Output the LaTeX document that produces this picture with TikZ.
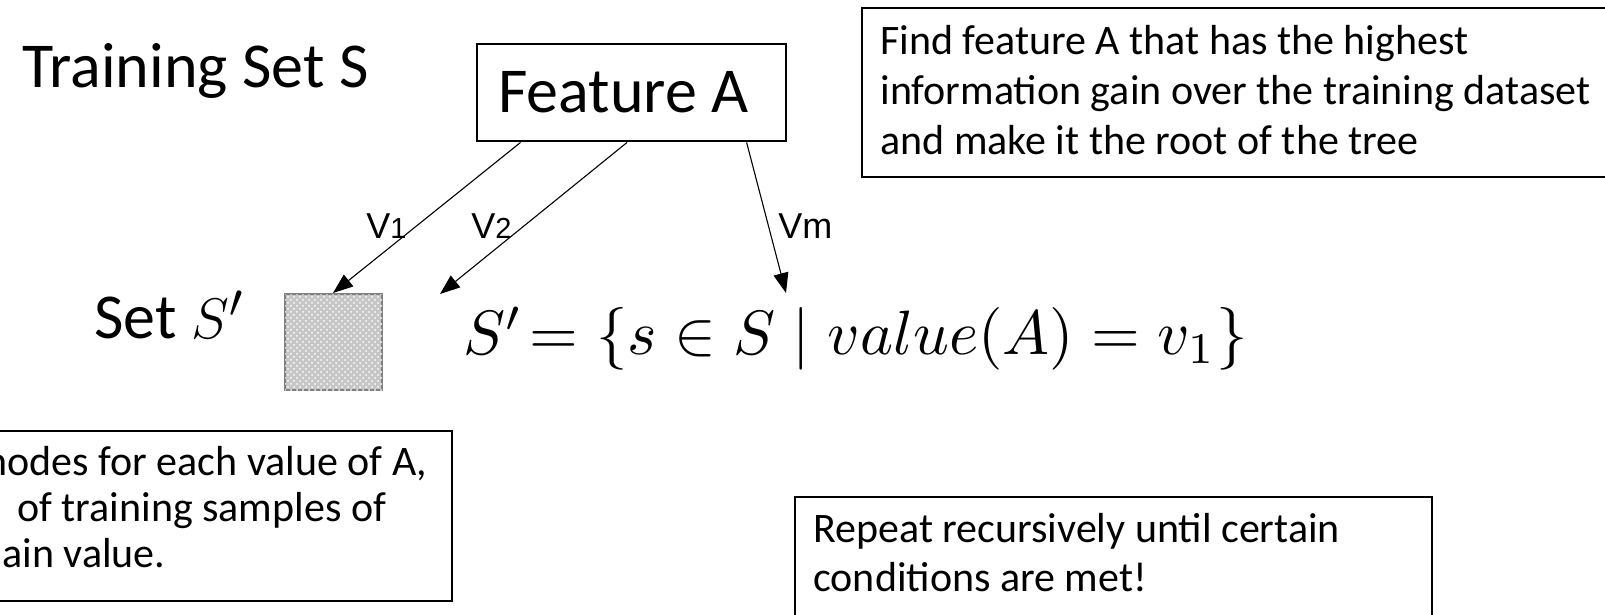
\documentclass[tikz,border=0pt]{standalone}
\usepackage{fontspec}
\setmainfont{Carlito}
\newfontfamily\labelfont{Liberation Sans}
\usetikzlibrary{arrows.meta,calc,patterns}
\begin{document}
\begin{tikzpicture}[x=0.5pt,y=-0.5pt,
  % multi-line notes are placed by the baseline of their last line
  txt/.style={font=\fontsize{21}{#1}\selectfont, inner sep=0pt, align=left, anchor=base west},
  note/.style={draw=black, line width=0.9pt, inner sep=0pt, anchor=north west},
  big/.style={font=\fontsize{32}{38}\selectfont, inner sep=0pt},
  lbl/.style={font=\labelfont\fontsize{18}{20}\selectfont, inner sep=0pt, anchor=base west},
  link/.style={line width=0.55pt, -{Triangle[length=10pt,width=7.5pt]}}]
\useasboundingbox (0,0) rectangle (1605,615);

% title and root feature
\node[big, anchor=base west] (title) at (22,88) {Training Set S};
\node[big, draw=black, line width=1.4pt, minimum width=154.5pt, minimum height=48.5pt]
  (fa) at (631.5,92.5) {Feature A\hspace*{8pt}};

% explanation boxes
\node[note, minimum width=382pt, minimum height=84.5pt] (goal) at (861,7) {};
\node[txt=25pt] (goaltext) at (880,155)
  {Find feature A that has the highest\\information gain over the training dataset\\and make it the root of the tree};

\node[note, minimum width=235.5pt, minimum height=85pt] (child) at (-20,430) {};
\node[txt=23pt] (childtext) at (-15,567)
  {nodes for each value of A,\\\hspace*{16pt}of training samples of\\\hspace*{8.5pt}ain value.};

\node[note, minimum width=318.5pt, minimum height=69.5pt] (rep) at (794,496) {};
\node[txt=24.5pt] (reptext) at (813,591)
  {Repeat recursively until certain\\conditions are met!};

% subset node
\node[big, anchor=base west] (setlbl) at (94,338) {Set \scalebox{1.15}{$S'$}};
\node[draw=gray, line width=1pt, fill=gray!45,
  postaction={pattern=crosshatch dots, pattern color=white},
  minimum width=48.5pt, minimum height=48pt, inner sep=0pt, anchor=north west]
  (sq) at (284,293) {};

\node[anchor=base west, inner sep=0pt] (rule) at (463,354)
  {\resizebox{392pt}{!}{$S'\!= \{s \in S \mid value(A) = v_1\}$}};

% branches
\coordinate (t2) at (440,294);
\coordinate (tm) at (786,293);
\draw[link] ($(fa.south west)+(45,0)$) -- ($(sq.north west)+(49,0)$);
\draw[link] ($(fa.south west)+(151.5,0)$) -- (t2);
\draw[link] ($(fa.south west)+(271,0)$) -- (tm);

\node[lbl] (v1) at (366,238) {V{\fontsize{14.5}{15}\selectfont 1}};
\node[lbl] (v2) at (471,238) {V{\fontsize{14.5}{15}\selectfont 2}};
\node[lbl] (vm) at (778,238) {Vm};
\end{tikzpicture}
\end{document}
